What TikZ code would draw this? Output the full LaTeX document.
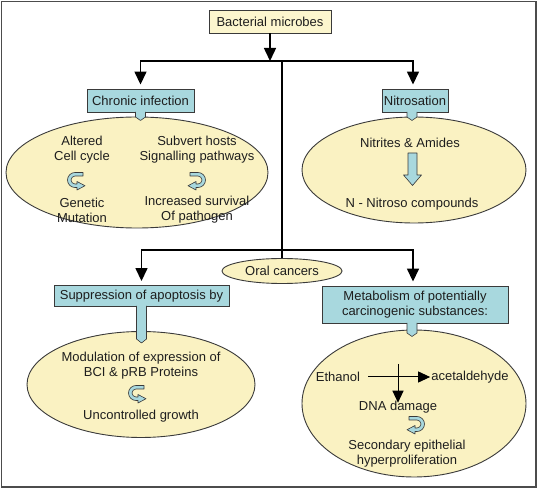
\documentclass[tikz,border=0pt]{standalone}
\usepackage{fontspec}
\setmainfont{Liberation Sans}
\usetikzlibrary{arrows.meta,shapes.geometric}
\definecolor{ylw}{HTML}{FAF2C2}
\definecolor{ylwbox}{HTML}{FCF6CE}
\definecolor{blu}{HTML}{A8D8DE}
\definecolor{edgec}{HTML}{3A3A3A}
\definecolor{txt}{HTML}{1E1E1E}
\begin{document}
\begin{tikzpicture}[x=1pt,y=-1pt,
  font=\fontsize{13}{15}\selectfont, text=txt,
  bluebox/.style={draw=edgec, fill=blu, line width=0.9pt, inner sep=0pt, align=center},
  ybox/.style={draw=edgec, fill=ylwbox, line width=0.9pt, inner sep=0pt, align=center},
  ell/.style={ellipse, draw=edgec, fill=ylw, line width=0.9pt, inner sep=0pt},
  lbl/.style={inner sep=0pt, align=center},
  conn/.style={line width=1.5pt, black},
  arr/.style={conn, -{Triangle[length=13pt,width=12pt]}},
  tabst/.style={draw=edgec, fill=blu, line width=0.6pt, line join=round},
  uturn/.pic={\filldraw[x=1pt,y=1pt,draw=edgec, fill=blu, line width=0.6pt, line join=round]
     (8,7.5) -- (0,7.5) arc[start angle=90,end angle=270,radius=7.5] -- (2,-7.5) -- (2,-10)
     -- (10,-5.75) -- (2,-1.5) -- (2,-4) -- (0,-4) arc[start angle=270,end angle=90,radius=4]
     -- (8,4) -- cycle;}
]
\useasboundingbox (0,0) rectangle (539,489);
\fill[white] (0,0) rectangle (539,489);
\draw[gray!60!black, line width=1.5pt] (1.5,1.5) rectangle (536,487);

% ellipses
\node[ell, minimum width=262pt, minimum height=111pt] (e1) at (137,172.5) {};
\node[ell, minimum width=224pt, minimum height=106pt] (e2) at (414,170) {};
\node[ell, minimum width=228pt, minimum height=106pt] (e3) at (141,384.5) {};
\node[ell, minimum width=224pt, minimum height=147pt] (e4) at (414,403.5) {};
\node[ell, minimum width=120pt, minimum height=25pt] (oral) at (282,271) {Oral cancers};

% boxes
\node[ybox, minimum width=122pt, minimum height=23pt] (bact) at (270,21.5) {Bacterial microbes};
\node[bluebox, minimum width=107pt, minimum height=23pt] (chronic) at (140.5,100.5) {Chronic infection};
\node[bluebox, minimum width=66pt, minimum height=23pt] (nitro) at (415,100.5) {Nitrosation};
\node[bluebox, minimum width=175pt, minimum height=21pt] (supp) at (141.5,296) {Suppression of apoptosis by};
\node[bluebox, minimum width=186pt, minimum height=37pt] (metab) at (415,304.5) {Metabolism of potentially\\carcinogenic substances:};

% tabs
\filldraw[tabst] (135.5,112) -- (135.5,117) -- (140.5,120.5) -- (145.5,117) -- (145.5,112);
\filldraw[tabst] (407,112) -- (407,117) -- (412,120.5) -- (417,117) -- (417,112);
\filldraw[tabst] (136.5,306) -- (136.5,339) -- (141.5,343) -- (146.5,339) -- (146.5,306);
\filldraw[tabst] (407,323) -- (407,333) -- (412,336.5) -- (417,333) -- (417,323);

% connectors
\coordinate (jc) at (282,61);
\coordinate (jc2) at (282,250);
\draw[arr] (bact.south) -- (bact.south |- jc);
\draw[conn] (jc) -- (oral.north);
\draw[arr, shorten >=4pt] (jc) -| (chronic.north);
\draw[arr, shorten >=4pt] (jc) -| ([xshift=-2pt]nitro.north);
\draw[arr, shorten >=4pt] (jc2) -| (supp.north);
\draw[arr, shorten >=4pt] (jc2) -| ([xshift=-2pt]metab.north);

% left top ellipse content
\node[lbl] (alt) at (82,149.5) {Altered\\Cell cycle};
\node[lbl] (sub) at (197,149.5) {Subvert hosts\\Signalling pathways};
\node[lbl] (gen) at (82,210) {Genetic\\Mutation};
\node[lbl] (inc) at (197,210) {Increased survival\\Of pathogen};
\pic at (75,180) {uturn};
\pic[xscale=-1] at (198,180) {uturn};

% right top ellipse content
\node[lbl] (nit) at (410,143) {Nitrites \& Amides};
\node[lbl] (nnc) at (412,204) {N - Nitroso compounds};
\filldraw[draw=edgec, fill=blu, line width=0.6pt, line join=round]
  (408,153) -- (417,153) -- (417,175) -- (421.5,175) -- (412.5,185.5) -- (403.5,175) -- (408,175) -- cycle;

% bottom left ellipse content
\node[lbl] (mod) at (141,365.5) {Modulation of expression of\\BCI \& pRB Proteins};
\node[lbl] (unc) at (141,416) {Uncontrolled growth};
\pic at (136,393) {uturn};

% bottom right ellipse content
\node[lbl] (eth) at (338,377) {Ethanol};
\node[lbl] (acet) at (470,377) {acetaldehyde};
\node[lbl] (dna) at (398,407) {DNA damage};
\node[lbl] (sec) at (407,454) {Secondary epithelial\\hyperproliferation};
\coordinate (vtop) at (398,364);
\draw[line width=1pt, -{Triangle[length=12pt,width=11pt]}] ([xshift=8pt]eth.east) -- ([xshift=-1pt]acet.west);
\draw[line width=1pt, -{Triangle[length=12pt,width=11pt]}] (vtop) -- ([yshift=-2pt]dna.north);
\pic[xscale=-1] at (417,424) {uturn};
\end{tikzpicture}
\end{document}
